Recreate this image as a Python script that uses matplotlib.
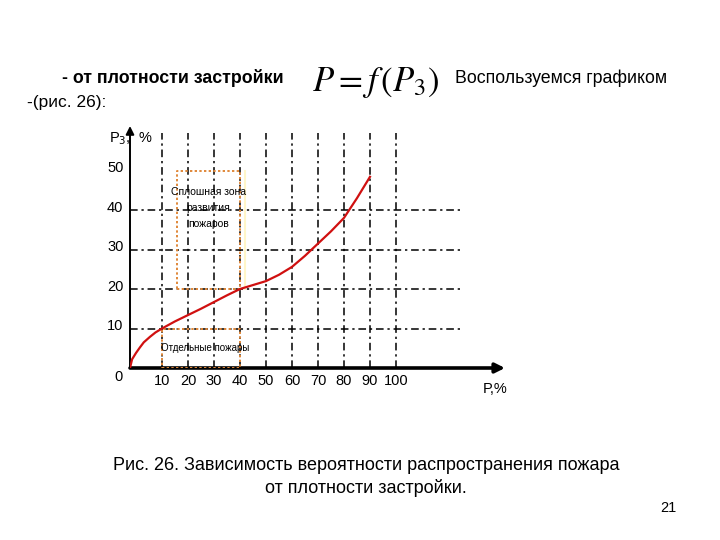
import matplotlib
matplotlib.use("Agg")
import matplotlib.pyplot as plt
from matplotlib import font_manager

names = {f.name for f in font_manager.fontManager.ttflist}
FONT = "Liberation Sans Narrow" if "Liberation Sans Narrow" in names else "Liberation Sans"
plt.rcParams['font.family'] = [FONT, 'DejaVu Sans']

# ---- data ----
x_ticks = [10, 20, 30, 40, 50, 60, 70, 80, 90, 100]
y_ticks = [10, 20, 30, 40, 50]
h_grid = [10, 20, 30, 40]
curve_x = [-2.3, -1.5, 0, 1.5, 3, 5.4, 7.5, 10, 15, 20, 25, 30, 35, 40, 45, 50, 55, 60, 65, 70, 75, 80, 85, 90]
curve_y = [0, 2.2, 3.8, 5.2, 6.5, 7.9, 9.0, 10.0, 11.8, 13.4, 15.0, 16.7, 18.4, 20.0, 21.0, 22.0, 23.6, 25.6, 28.4, 31.5, 34.6, 38.0, 43.0, 48.4]
zone1 = (15.8, 20, 40, 50)   # x0, y0, x1, y1  "Сплошная зона развития пожаров"
zone2 = (10, 0, 40, 10)      # "Отдельные пожары"

W, H = 720, 540
fig = plt.figure(figsize=(7.2, 5.4), dpi=100)

# axes: pixel 130 -> x=-2.3 ; 2.6 px per unit ; pixel 368 -> y=0 ; 3.95 px per unit
px0, py0 = 130, 368
sx, sy = 2.6, 3.95
xmin = -2.3
ax_right = 505
ax_top = 126
xmax = xmin + (ax_right - px0) / sx
ymax = (py0 - ax_top) / sy
ax = fig.add_axes([px0 / W, (H - py0) / H, (ax_right - px0) / W, (py0 - ax_top) / H])
ax.set_xlim(xmin, xmax)
ax.set_ylim(0, ymax)
for s in ['top', 'right', 'left', 'bottom']:
    ax.spines[s].set_visible(False)
ax.set_xticks([])
ax.set_yticks([])

# axes with arrows
ax.annotate('', xy=(xmax, 0), xytext=(xmin, 0), xycoords='data',
            arrowprops=dict(arrowstyle='-|>', lw=2.6, color='black', mutation_scale=14,
                            shrinkA=0, shrinkB=0), annotation_clip=False)
ax.annotate('', xy=(xmin, ymax), xytext=(xmin, 0), xycoords='data',
            arrowprops=dict(arrowstyle='-|>', lw=1.4, color='black', mutation_scale=12,
                            shrinkA=0, shrinkB=0), annotation_clip=False)

# grid
dashdot = (0, (5, 2.5, 1.5, 2.5))
gtop = (py0 - 133) / sy
for xv in x_ticks:
    ax.plot([xv, xv], [0, gtop], color='black', lw=1.1, ls=dashdot, zorder=2)
for yv in h_grid:
    ax.plot([xmin, (463 - px0) / sx + xmin], [yv, yv], color='black', lw=1.1, ls=dashdot, zorder=2)

# zones
for (x0, y0, x1, y1) in (zone1, zone2):
    ax.plot([x0, x1, x1, x0, x0], [y0, y0, y1, y1, y0], color='#E0883A', lw=1.4, ls=(0, (1.2, 1.2)), zorder=3)
ax.plot([41.8, 41.8], [20, 50], color='#FFF6C8', lw=1.5, zorder=1)

ax.text(27.8, 40.5, 'Сплошная зона\nразвития\nпожаров', ha='center', va='center', fontsize=7.5,
        linespacing=1.75, zorder=4)
ax.text(9.6, 5, 'Отдельные пожары', ha='left', va='center', fontsize=7, zorder=4)

# curve
ax.plot(curve_x, curve_y, color='#D01010', lw=1.6, zorder=5)

# tick labels
for xv in x_ticks:
    ax.text(xv, -3.4, str(xv), ha='center', va='center', fontsize=10.5)
for yv in y_ticks:
    ax.text(-4.8, yv + 0.6, str(yv), ha='right', va='center', fontsize=10.5)
ax.text(-5.2, -2.3, '0', ha='right', va='center', fontsize=10.5)
ax.text(-10.5, 58.0, 'Р$_3$,  %', ha='left', va='center', fontsize=10.5)
ax.text(xmin + (483 - px0) / sx, -5.2, 'P,%', ha='left', va='center', fontsize=10.5)

# header / caption
fig.text(62 / W, 1 - 78 / H, '- от плотности застройки', fontsize=12.8, fontweight='bold',
         ha='left', va='center')
fig.text(27 / W, 1 - 102 / H, '-(рис. 26):', fontsize=12.5, ha='left', va='center')
fig.text(312 / W, 1 - 82 / H, r'$P=f\,(P_3)$', fontsize=25, ha='left', va='center',
         math_fontfamily='stix')
fig.text(455 / W, 1 - 78 / H, 'Воспользуемся графиком', fontsize=12.8, ha='left', va='center')
fig.text(366 / W, 1 - 466 / H, 'Рис. 26. Зависимость вероятности распространения пожара',
         fontsize=13, ha='center', va='center')
fig.text(366 / W, 1 - 488 / H, 'от плотности застройки.', fontsize=13, ha='center', va='center')
fig.text(668 / W, 1 - 508 / H, '21', fontsize=10.5, ha='center', va='center')

fig.savefig('out.png', dpi=100)
